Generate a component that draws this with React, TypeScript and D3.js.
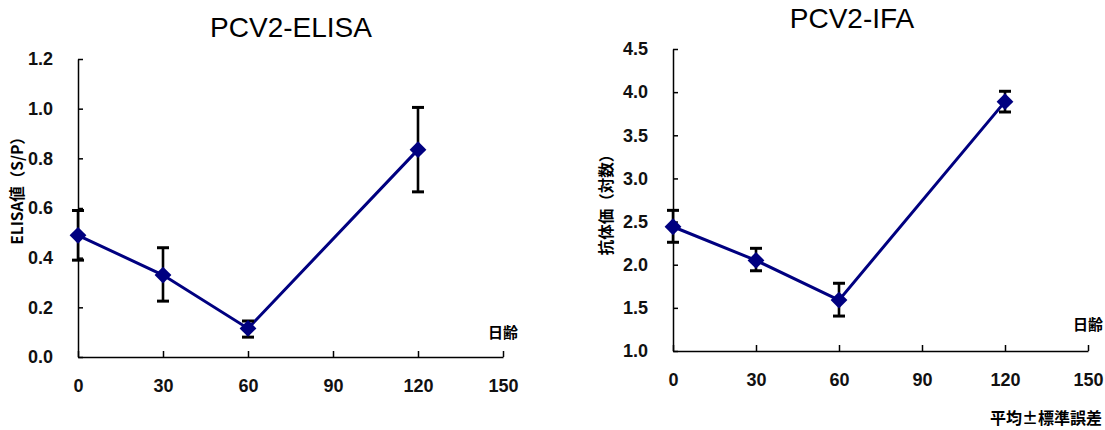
import React, { useEffect, useRef } from "react";
import * as d3 from "d3";

// days of age
const days = [0, 30, 60, 120];
const xTicks = [0, 30, 60, 90, 120, 150];

// PCV2-ELISA (S/P), mean and standard error limits
const elisaMean = [0.49, 0.33, 0.115, 0.835];
const elisaLow = [0.39, 0.225, 0.08, 0.665];
const elisaHigh = [0.59, 0.44, 0.145, 1.005];
const elisaTicks = [0, 0.2, 0.4, 0.6, 0.8, 1.0, 1.2];

// PCV2-IFA (log titre)
const ifaMean = [2.44, 2.05, 1.59, 3.89];
const ifaLow = [2.26, 1.93, 1.405, 3.77];
const ifaHigh = [2.63, 2.19, 1.785, 4.01];
const ifaTicks = [1.0, 1.5, 2.0, 2.5, 3.0, 3.5, 4.0, 4.5];

const NAVY = "#000080";
const NUM_FONT = "'Liberation Sans', Arial, sans-serif";
const JP_FONT = "'Noto Sans CJK JP', sans-serif";

const App = () => {
  const ref = useRef(null);

  useEffect(() => {
    const svg = d3.select(ref.current);
    svg.selectAll("*").remove();

    const panel = (opts) => {
      const x = d3.scaleLinear().domain([0, 150]).range(opts.xRange);
      const y = d3.scaleLinear().domain(opts.yDomain).range(opts.yRange);
      const g = svg.append("g");

      // axes, ticks pointing inward
      const xa = g.append("g")
        .attr("transform", `translate(0,${opts.yRange[0]})`)
        .call(d3.axisBottom(x).tickValues(xTicks).tickSizeInner(-6).tickSizeOuter(0).tickPadding(22));
      const ya = g.append("g")
        .attr("transform", `translate(${opts.xRange[0]},0)`)
        .call(d3.axisLeft(y).tickValues(opts.yTicks).tickFormat(d3.format(".1f")).tickSizeInner(-5).tickSizeOuter(0).tickPadding(25));
      [xa, ya].forEach(a => {
        a.select(".domain").attr("stroke", "#000").attr("stroke-width", 1.5);
        a.selectAll(".tick line").attr("stroke", "#000").attr("stroke-width", 1.5);
        a.selectAll("text")
          .attr("fill", "#111")
          .style("font-family", NUM_FONT)
          .style("font-size", "18px")
          .style("font-weight", "bold");
      });

      // connecting line
      const line = d3.line().x((d, i) => x(days[i])).y(d => y(d));
      g.append("path")
        .datum(opts.mean)
        .attr("fill", "none")
        .attr("stroke", NAVY)
        .attr("stroke-width", 3)
        .attr("d", line);

      // error bars
      const eb = g.append("g").attr("stroke", "#000").attr("stroke-width", 2.6);
      days.forEach((d, i) => {
        const cx = x(d);
        eb.append("line").attr("x1", cx).attr("x2", cx).attr("y1", y(opts.low[i])).attr("y2", y(opts.high[i]));
        eb.append("line").attr("x1", cx - 6).attr("x2", cx + 6).attr("y1", y(opts.low[i])).attr("y2", y(opts.low[i])).attr("stroke-width", 3);
        eb.append("line").attr("x1", cx - 6).attr("x2", cx + 6).attr("y1", y(opts.high[i])).attr("y2", y(opts.high[i])).attr("stroke-width", 3);
      });

      // diamond markers
      const sym = d3.symbol().type(d3.symbolDiamond2).size(180);
      g.selectAll("path.pt")
        .data(opts.mean)
        .enter().append("path")
        .attr("class", "pt")
        .attr("transform", (d, i) => `translate(${x(days[i])},${y(d)})`)
        .attr("d", sym)
        .attr("fill", NAVY);

      // title
      g.append("text")
        .attr("x", opts.titleX)
        .attr("y", opts.titleY)
        .attr("text-anchor", "middle")
        .style("font-family", NUM_FONT)
        .style("font-size", "28px")
        .text(opts.title);

      // y label
      g.append("text")
        .attr("transform", `translate(${opts.yLabelX},${opts.yLabelY}) rotate(-90)`)
        .attr("text-anchor", "middle")
        .attr("dy", "0.35em")
        .style("font-family", JP_FONT)
        .style("font-size", "15.5px")
        .style("font-weight", "bold")
        .text(opts.yLabel);

      // x label
      g.append("text")
        .attr("x", opts.xRange[1] + 15)
        .attr("y", opts.xLabelY)
        .attr("text-anchor", "end")
        .attr("dy", "0.35em")
        .style("font-family", JP_FONT)
        .style("font-size", "15px")
        .style("font-weight", "bold")
        .text("日齢");
    };

    panel({
      xRange: [78, 503], yDomain: [0, 1.2], yRange: [357, 59], yTicks: elisaTicks,
      mean: elisaMean, low: elisaLow, high: elisaHigh,
      title: "PCV2-ELISA", titleX: 291, titleY: 37,
      yLabel: "ELISA値（S/P）", yLabelX: 18, yLabelY: 187,
      xLabelY: 333,
    });

    panel({
      xRange: [673, 1088], yDomain: [1, 4.5], yRange: [351, 49], yTicks: ifaTicks,
      mean: ifaMean, low: ifaLow, high: ifaHigh,
      title: "PCV2-IFA", titleX: 852, titleY: 28,
      yLabel: "抗体価（対数）", yLabelX: 607, yLabelY: 201,
      xLabelY: 325,
    });

    svg.append("text")
      .attr("x", 1102)
      .attr("y", 418)
      .attr("text-anchor", "end")
      .attr("dy", "0.35em")
      .style("font-family", JP_FONT)
      .style("font-size", "16px")
      .style("font-weight", "bold")
      .text("平均±標準誤差");
  }, []);

  return (
    <svg ref={ref} width={1105} height={430}
      style={{ position: "absolute", left: 0, top: 0, background: "#fff" }} />
  );
};

export default App;
